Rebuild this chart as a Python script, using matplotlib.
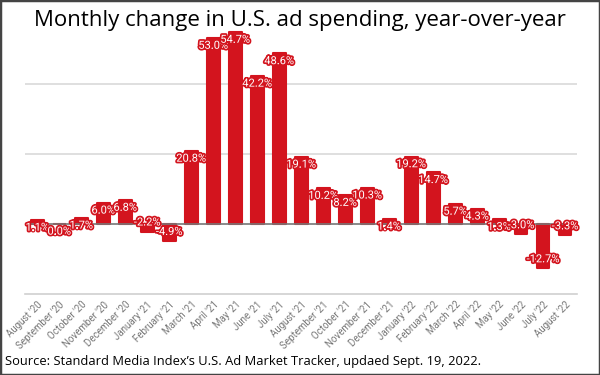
import matplotlib
matplotlib.use("Agg")
import matplotlib.pyplot as plt
import matplotlib.patheffects as pe
from matplotlib.patches import Rectangle

months = ["August '20", "September '20", "October '20", "November '20", "December '20",
          "January '21", "February '21", "March '21", "April '21", "May '21", "June '21",
          "July '21", "August '21", "September '21", "October '21", "November '21",
          "December '21", "January '22", "February '22", "March '22", "April '22",
          "May '22", "June '22", "July '22", "August '22"]
change = [1.1, 0.0, 1.7, 6.0, 6.8, -2.2, -4.9, 20.8, 53.0, 54.7, 42.2, 48.6, 19.1,
          10.2, 8.2, 10.3, 1.4, 19.2, 14.7, 5.7, 4.3, 1.3, -3.0, -12.7, -3.3]

red = "#d3141e"

fig = plt.figure(figsize=(6, 3.75), dpi=100)
ax = fig.add_axes([0.042, 0.216, 0.92, 0.72])

x = range(len(change))
ax.bar(x, change, width=0.58, color=red, edgecolor=red, linewidth=1.5,
       joinstyle="round", zorder=3)

ax.set_xlim(-0.55, len(change) - 0.45)
ax.set_ylim(-20, 57)

for yv in [20, 40]:
    ax.axhline(yv, color="#d9d9d9", lw=1.2, zorder=1)
ax.axhline(0, color="#777777", lw=1.2, zorder=4)

for s in ["top", "left", "right"]:
    ax.spines[s].set_visible(False)
ax.spines["bottom"].set_color("#d0d0d0")
ax.spines["bottom"].set_linewidth(1.2)
ax.set_yticks([])
ax.set_xticks(list(x))
ax.set_xticklabels(months, rotation=45, ha="right", rotation_mode="anchor",
                   fontsize=7, color="#777777", family="Roboto")
ax.tick_params(axis="x", length=0, pad=4)

for i, v in enumerate(change):
    off = -2.2 if v >= 0 else 2.6
    ax.text(i, v + off, f"{v:.1f}%", ha="center", va="center", fontsize=8,
            family="Roboto", color="white", zorder=5,
            path_effects=[pe.withStroke(linewidth=2.5, foreground=red)])

fig.text(0.5, 0.945, "Monthly change in U.S. ad spending, year-over-year",
         ha="center", va="center", fontsize=16, family="Open Sans")
fig.text(0.008, 0.035,
         "Source: Standard Media Index\u2019s U.S. Ad Market Tracker, updaed Sept. 19, 2022.",
         ha="left", va="center", fontsize=9.3, family="Open Sans")

fig.patches.append(Rectangle((0, 0), 1, 1, transform=fig.transFigure, fill=False,
                             edgecolor="#444444", linewidth=2.5))

fig.savefig("out.png", dpi=100)
